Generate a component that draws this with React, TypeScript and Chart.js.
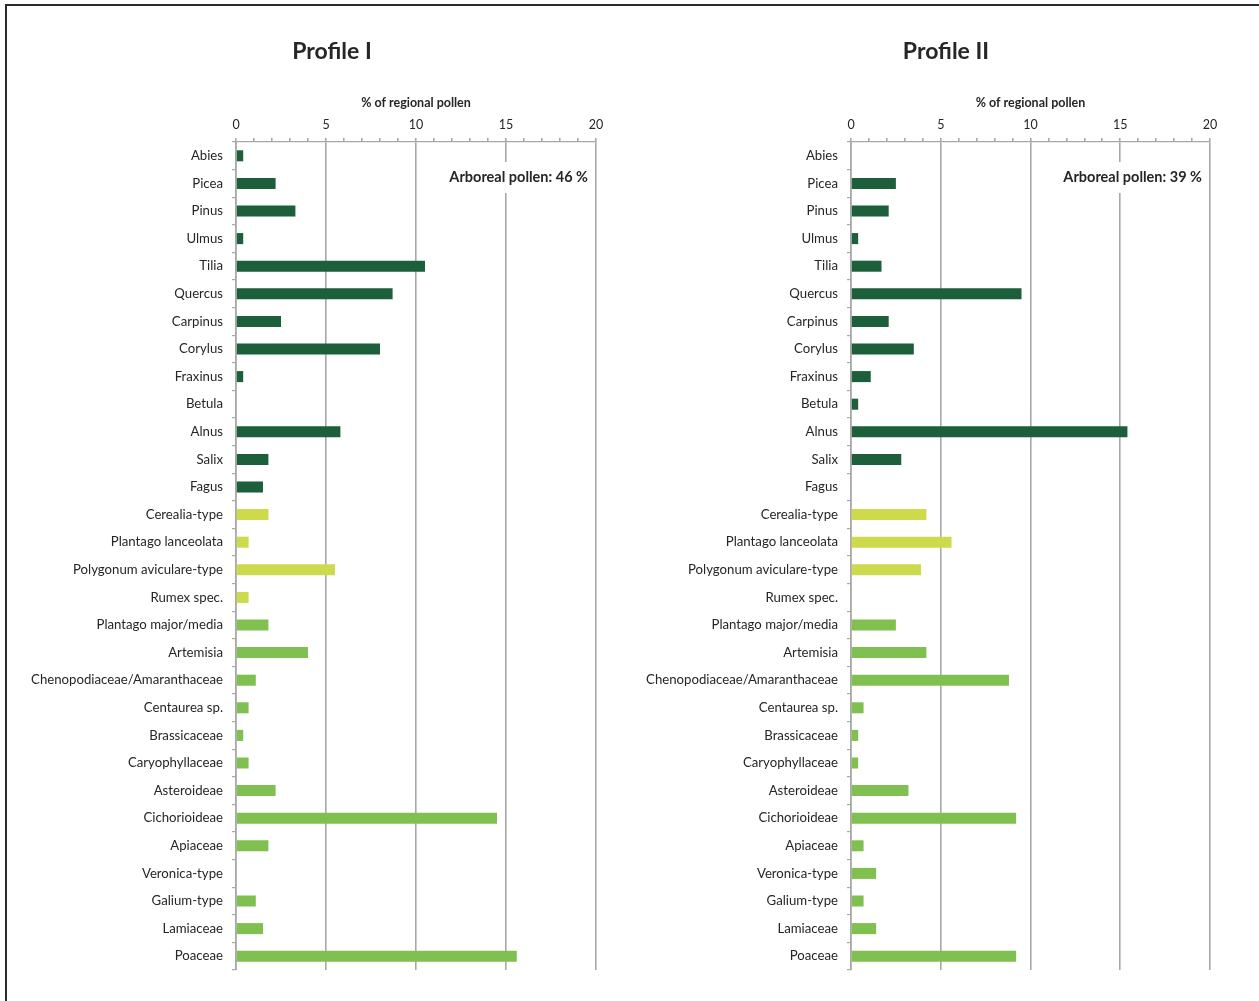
import React, { useEffect, useRef } from "react";
import { Chart, registerables } from "chart.js";

Chart.register(...registerables);

const categories = [
  "Abies", "Picea", "Pinus", "Ulmus", "Tilia", "Quercus", "Carpinus", "Corylus",
  "Fraxinus", "Betula", "Alnus", "Salix", "Fagus", "Cerealia-type",
  "Plantago lanceolata", "Polygonum aviculare-type", "Rumex spec.",
  "Plantago major/media", "Artemisia", "Chenopodiaceae/Amaranthaceae",
  "Centaurea sp.", "Brassicaceae", "Caryophyllaceae", "Asteroideae",
  "Cichorioideae", "Apiaceae", "Veronica-type", "Galium-type", "Lamiaceae", "Poaceae",
];

// 0 = arboreal, 1 = cultural indicators, 2 = other herbs
const groups = [
  0, 0, 0, 0, 0, 0, 0, 0, 0, 0, 0, 0, 0,
  1, 1, 1, 1,
  2, 2, 2, 2, 2, 2, 2, 2, 2, 2, 2, 2, 2,
];

const profile1 = [
  0.4, 2.2, 3.3, 0.4, 10.5, 8.7, 2.5, 8.0, 0.4, 0, 5.8, 1.8, 1.5,
  1.8, 0.7, 5.5, 0.7,
  1.8, 4.0, 1.1, 0.7, 0.4, 0.7, 2.2, 14.5, 1.8, 0, 1.1, 1.5, 15.6,
];

const profile2 = [
  0, 2.5, 2.1, 0.4, 1.7, 9.5, 2.1, 3.5, 1.1, 0.4, 15.4, 2.8, 0,
  4.2, 5.6, 3.9, 0,
  2.5, 4.2, 8.8, 0.7, 0.4, 0.4, 3.2, 9.2, 0.7, 1.4, 0.7, 1.4, 9.2,
];

const titles = ["Profile I", "Profile II"];
const arborealLabels = ["Arboreal pollen: 46 %", "Arboreal pollen: 39 %"];
const axisTitle = "% of regional pollen";
const xMin = 0;
const xMax = 20;
const majorStep = 5;

const groupColors = ["#1d5e3b", "#cdda4b", "#80c050"];
const FONT = "Lato, 'Open Sans', sans-serif";
const TEXT = "#262626";
const GRID = "#a8a8a8";

type PanelProps = {
  values: number[];
  title: string;
  arboreal: string;
  left: number;
  width: number;
  yAxisWidth: number;
  rightPad: number;
  titleX: number;
};

const annotatePlugin = {
  id: "annotate",
  afterDraw(chart: any, _args: any, opts: any) {
    const { ctx, chartArea } = chart;
    ctx.save();
    // panel title
    ctx.font = `bold 23px ${FONT}`;
    ctx.fillStyle = TEXT;
    ctx.textAlign = "center";
    ctx.textBaseline = "middle";
    ctx.fillText(opts.title, opts.titleX, 52);
    // arboreal pollen note
    ctx.font = `bold 14.5px ${FONT}`;
    const text = opts.text as string;
    const w = ctx.measureText(text).width;
    const right = chartArea.right - 8;
    const cy = 177;
    ctx.fillStyle = "#ffffff";
    ctx.fillRect(right - w - 2, cy - 15, w + 4, 31);
    ctx.fillStyle = TEXT;
    ctx.textAlign = "right";
    ctx.fillText(text, right, cy);
    ctx.restore();
  },
};

function Panel({ values, title, arboreal, left, width, yAxisWidth, rightPad, titleX }: PanelProps) {
  const ref = useRef<HTMLCanvasElement | null>(null);
  useEffect(() => {
    if (!ref.current) return;
    const chart = new Chart(ref.current, {
      type: "bar",
      data: {
        labels: categories,
        datasets: [
          {
            data: values,
            backgroundColor: groups.map((g) => groupColors[g]),
            borderWidth: 0,
            barPercentage: 0.4,
            categoryPercentage: 1.0,
          },
        ],
      },
      plugins: [annotatePlugin],
      options: {
        indexAxis: "y",
        responsive: false,
        animation: false,
        layout: { padding: { top: 0, bottom: 31, left: 0, right: rightPad } },
        plugins: {
          legend: { display: false },
          tooltip: { enabled: false },
          title: { display: false },
          annotate: { text: arboreal, title, titleX },
        } as any,
        scales: {
          x: {
            position: "top",
            min: xMin,
            max: xMax,
            afterFit(scale: any) {
              scale.height = 142;
            },
            ticks: {
              stepSize: 1,
              autoSkip: false,
              maxRotation: 0,
              color: TEXT,
              font: { family: FONT, size: 12.5 },
              padding: 6,
              callback: (v: any) => (Number(v) % majorStep === 0 ? String(v) : ""),
            },
            grid: {
              color: (ctx: any) =>
                ctx.tick && ctx.tick.value % majorStep === 0 ? GRID : "rgba(0,0,0,0)",
              tickColor: GRID,
              lineWidth: 1.6,
              tickLength: 4,
              drawTicks: true,
            },
            border: { display: true, color: GRID, width: 1.2 },
            title: {
              display: true,
              text: axisTitle,
              color: TEXT,
              font: { family: FONT, size: 12.5, weight: "bold", lineHeight: 1.2 },
              padding: { top: 95.5, bottom: 0 },
            },
          },
          y: {
            afterFit(scale: any) {
              scale.width = yAxisWidth;
            },
            ticks: {
              color: TEXT,
              font: { family: FONT, size: 13.2 },
              padding: 9,
              autoSkip: false,
            },
            grid: {
              offset: true,
              drawOnChartArea: false,
              drawTicks: true,
              tickLength: 4,
              color: GRID,
              lineWidth: 1.2,
            },
            border: { display: true, color: GRID, width: 1.6 },
          },
        },
      } as any,
    });
    return () => chart.destroy();
  }, []);
  return (
    <canvas
      ref={ref}
      width={width}
      height={1001}
      style={{ position: "absolute", left, top: 0, width, height: 1001 }}
    />
  );
}

export default function App() {
  return (
    <div
      style={{
        position: "fixed",
        left: 0,
        top: 0,
        width: 1259,
        height: 1001,
        overflow: "hidden",
        background: "#ffffff",
      }}
    >
      <div
        style={{
          position: "absolute",
          left: 5,
          top: 4,
          width: 1300,
          height: 1100,
          border: "2px solid #2a2a2a",
          boxSizing: "border-box",
        }}
      />
      <Panel
        values={profile1}
        title={titles[0]}
        arboreal={arborealLabels[0]}
        left={0}
        width={664}
        yAxisWidth={236}
        rightPad={68}
        titleX={332}
      />
      <Panel
        values={profile2}
        title={titles[1]}
        arboreal={arborealLabels[1]}
        left={632}
        width={627}
        yAxisWidth={219}
        rightPad={49}
        titleX={314}
      />
    </div>
  );
}
